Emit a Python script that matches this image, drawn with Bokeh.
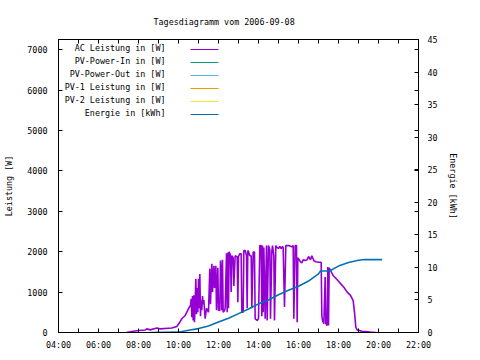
from bokeh.plotting import figure
from bokeh.models import Range1d, LinearAxis, FixedTicker, Label, BoxAnnotation, ColumnDataSource
from bokeh.embed import file_html
from bokeh.resources import INLINE

# ---------------- data ----------------
ac_times = ["07:24", "07:40", "08:00", "08:20", "08:25", "08:35", "08:55", "09:05", "09:40", "09:55",
            "10:04", "10:10", "10:20", "10:30", "10:36", "10:38", "10:40", "10:42", "10:44", "10:46",
            "10:48", "10:50", "10:52", "10:54", "10:56", "10:58", "11:00", "11:02", "11:04", "11:06",
            "11:08", "11:10", "11:12", "11:14", "11:16", "11:20", "11:24", "11:30", "11:34", "11:36",
            "11:40", "11:42", "11:46", "11:48", "11:52", "11:54", "11:58", "12:00", "12:04", "12:06",
            "12:08", "12:10", "12:12", "12:14", "12:18", "12:20", "12:24", "12:26", "12:28", "12:30",
            "12:32", "12:36", "12:38", "12:40", "12:44", "12:46", "12:50", "12:56", "12:58", "13:00",
            "13:04", "13:08", "13:10", "13:14", "13:16", "13:20", "13:24", "13:26", "13:28", "13:30",
            "13:34", "13:38", "13:40", "13:44", "13:48", "13:50", "13:56", "14:00", "14:04", "14:08",
            "14:10", "14:12", "14:14", "14:16", "14:20", "14:24", "14:26", "14:30", "14:34", "14:36",
            "14:40", "14:42", "14:46", "14:48", "14:52", "14:56", "15:00", "15:04", "15:08", "15:12",
            "15:14", "15:18", "15:22", "15:30", "15:40", "15:44", "15:46", "15:50", "15:54", "15:56",
            "15:58", "16:02", "16:06", "16:10", "16:14", "16:20", "16:26", "16:30", "16:36", "16:40",
            "16:46", "16:52", "17:00", "17:08", "17:10", "17:12", "17:16", "17:20", "17:22", "17:26",
            "17:28", "17:30", "17:32", "17:36", "17:44", "17:56", "18:06", "18:16", "18:26", "18:36",
            "18:44", "18:48", "18:52", "18:56", "19:10", "19:36", "19:52"]
ac_watts = [0, 25, 50, 60, 90, 65, 110, 90, 110, 150,
            255, 340, 420, 590, 670, 835, 380, 900, 300, 920,
            255, 750, 1330, 450, 1100, 500, 1330, 600, 1450, 400,
            800, 550, 900, 700, 800, 340, 600, 500, 1580, 700,
            1700, 1000, 1650, 1100, 1650, 550, 1600, 550, 545, 1780,
            1500, 550, 1800, 500, 545, 600, 1960, 500, 1980, 600,
            2000, 1910, 1000, 1900, 1850, 1150, 1900, 1870, 750, 1880,
            1950, 1950, 500, 500, 2030, 2030, 1900, 600, 2030, 2000,
            1900, 1900, 600, 1990, 1990, 340, 300, 340, 2150, 2150,
            400, 2150, 500, 2100, 340, 2150, 300, 2150, 2050, 340,
            2000, 2150, 1900, 300, 2150, 2100, 2080, 2130, 2080, 2130,
            2100, 630, 2150, 2150, 2120, 2150, 340, 2150, 2150, 255,
            1850, 1800, 1750, 1720, 1800, 1780, 1800, 1880, 1800, 1900,
            1780, 1750, 1740, 1740, 420, 300, 220, 1370, 220, 175,
            1620, 175, 1600, 1540, 1410, 1305, 1210, 1120, 1000, 920,
            790, 500, 130, 65, 30, 10, 0]

energy_times = ["08:36", "10:00", "10:30", "11:00", "11:30", "12:00", "12:30", "13:00", "13:30",
                "14:00", "14:30", "15:00", "15:30", "16:00", "16:30", "17:00", "17:06", "17:33",
                "18:00", "18:30", "19:00", "19:18", "20:11"]
energy_kwh = [0, 0.05, 0.35, 0.6, 1.0, 1.6, 2.2, 2.9, 3.6,
              4.4, 5.0, 5.8, 6.5, 7.1, 7.9, 9.0, 9.45, 9.45,
              10.2, 10.75, 11.1, 11.2, 11.2]

series_names = ["AC Leistung in [W]", "PV-Power-In in [W]", "PV-Power-Out in [W]",
                "PV-1 Leistung in [W]", "PV-2 Leistung in [W]", "Energie in [kWh]"]
series_colors = ["#9400d3", "#009e73", "#56b4e9", "#e69f00", "#f0e442", "#0072b2"]

x_tick_hours = [4, 6, 8, 10, 12, 14, 16, 18, 20, 22]
x_tick_labels = ["04:00", "06:00", "08:00", "10:00", "12:00", "14:00", "16:00", "18:00", "20:00", "22:00"]
y_ticks = [0, 1000, 2000, 3000, 4000, 5000, 6000, 7000]
y2_ticks = [0, 5, 10, 15, 20, 25, 30, 35, 40, 45]

Y_MAX = 7250
Y2_MAX = 45


def to_hours(t):
    h, m = t.split(":")
    return int(h) + int(m) / 60.0


FONT = "DejaVu Sans Mono"
FS = "8.4px"

p = figure(width=480, height=360, x_range=Range1d(4, 22), y_range=Range1d(0, Y_MAX),
           output_backend="svg", toolbar_location=None,
           min_border_left=58, min_border_right=62, min_border_top=39, min_border_bottom=28)
p.extra_y_ranges = {"energy": Range1d(0, Y2_MAX)}
p.grid.visible = False
p.outline_line_color = "black"
p.outline_line_width = 1
p.background_fill_color = "white"
p.border_fill_color = "white"

# title
p.title.text = "Tagesdiagramm vom 2006-09-08"
p.title.align = "left"
p.title.offset = 95
p.title.standoff = 26
p.title.text_font = FONT
p.title.text_font_size = FS
p.title.text_font_style = "normal"
p.title.text_color = "black"


def style_axis(ax):
    ax.axis_line_color = "black"
    ax.major_tick_line_color = "black"
    ax.minor_tick_line_color = "black"
    ax.major_tick_in = 4
    ax.major_tick_out = 0
    ax.minor_tick_in = 4
    ax.minor_tick_out = 0
    ax.major_label_text_font = FONT
    ax.major_label_text_font_size = FS
    ax.major_label_text_color = "black"
    ax.axis_label_text_font = FONT
    ax.axis_label_text_font_size = FS
    ax.axis_label_text_font_style = "normal"
    ax.axis_label_text_color = "black"


xax = p.xaxis[0]
xax.ticker = FixedTicker(ticks=x_tick_hours, minor_ticks=[h for h in range(5, 22, 2)])
xax.major_label_overrides = {h: lab for h, lab in zip(x_tick_hours, x_tick_labels)}
style_axis(xax)
xax.major_label_standoff = 7

yax = p.yaxis[0]
yax.ticker = FixedTicker(ticks=y_ticks, minor_ticks=[])
yax.axis_label = "Leistung [W]"
style_axis(yax)
yax.major_label_standoff = 11
yax.axis_label_standoff = 10

# right axis (energy) with mirrored left ticks
mirror = [v * Y2_MAX / Y_MAX for v in y_ticks[1:]]
rax = LinearAxis(y_range_name="energy", ticker=FixedTicker(ticks=y2_ticks, minor_ticks=mirror),
                 axis_label="Energie [kWh]")
style_axis(rax)
rax.major_label_standoff = 9
rax.axis_label_standoff = 7
p.add_layout(rax, "right")

# top axis with mirrored x ticks (no labels)
tax = LinearAxis(ticker=FixedTicker(ticks=x_tick_hours, minor_ticks=[h for h in range(5, 22, 2)]))
style_axis(tax)
tax.major_label_overrides = {h: "" for h in x_tick_hours}
tax.major_label_standoff = 0
p.add_layout(tax, "above")

# data
ac_src = ColumnDataSource(dict(x=[to_hours(t) for t in ac_times], y=ac_watts))
en_src = ColumnDataSource(dict(x=[to_hours(t) for t in energy_times], y=energy_kwh))
p.line("x", "y", source=ac_src, line_color=series_colors[0], line_width=1.6)
p.line("x", "y", source=en_src, line_color=series_colors[5], line_width=1.6, y_range_name="energy")

# legend (gnuplot style: label right-aligned, sample to the right)
px_w = Y_MAX / 293.0
for i, (name, col) in enumerate(zip(series_names, series_colors)):
    yc = Y_MAX - (10 + 13 * i) * px_w
    p.add_layout(Label(x=9.35, y=yc + 1.5 * px_w, text=name, text_align="right", text_baseline="middle",
                       text_font=FONT, text_font_size=FS, text_color="black"))
    p.add_layout(BoxAnnotation(left=10.6, right=12.0, bottom=yc - 0.6 * px_w, top=yc + 0.6 * px_w,
                               fill_color=col, fill_alpha=1.0, line_color=None))

open("out.html", "w").write(file_html(p, INLINE))
